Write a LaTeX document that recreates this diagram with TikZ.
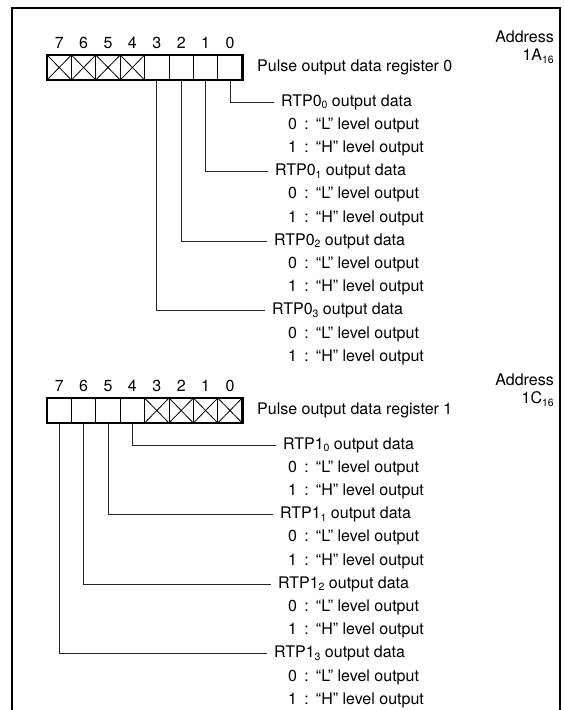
\documentclass[tikz,border=0pt]{standalone}
\usepackage{fontspec}
\setmainfont{TeX Gyre Heros}
\newcommand{\sbs}[1]{\raisebox{-0.3ex}{\fontsize{10.5}{10.5}\selectfont #1}}
\newcommand{\clr}{\hspace{0.45em}:\hspace{0.45em}}
\tikzset{
  cell/.style={draw, line width=0.8, minimum width=24.4, minimum height=25, inner sep=0, outer sep=0},
  bitlbl/.style={inner sep=0},
  lbl/.style={anchor=west, inner sep=0},
  addr/.style={anchor=east, inner sep=0},
  conn/.style={line width=0.9, draw=black!85},
  frame/.style={line width=1.8},
}
\newcommand{\regsec}[5]{%
  \foreach \i in {0,...,7} {
    \node[bitlbl] (L#1\i) at ({59.2+24.4*(7-\i)},43) {\i};
    \node[cell] (C#1\i) at ({59.2+24.4*(7-\i)},67.5) {};
  }
  \draw[line width=2.6] (C#17.north west) rectangle (C#10.south east);
  \foreach \i in {#2} {
    \draw[line width=0.8] (C#1\i.north west) -- (C#1\i.south east)
                          (C#1\i.north east) -- (C#1\i.south west);
  }
  \node[lbl] (P#1) at (257,67.5) {Pulse output data register #3};
  \node[addr] (A#1) at (554,37) {Address};
  \node[addr] (H#1) at (554,56) {#4};
  \foreach \k/\b/\rx in {#5} {
    \node[lbl] (R#1\k) at (\rx,{102+69.6*\k}) {RTP#1\sbs{\k} output data};
    \node[lbl] (Z#1\k) at (288,{125.2+69.6*\k}) {0\clr “L” level output};
    \node[lbl] (O#1\k) at (288,{148.4+69.6*\k}) {1\clr “H” level output};
    \draw[conn] (C#1\b.south) |- ([xshift=-7]R#1\k.west);
  }
}
\begin{document}
\begin{tikzpicture}[x=1pt,y=-1pt,font=\fontsize{16}{19}\selectfont]
\useasboundingbox (0,0) rectangle (563,710);
\coordinate (FB1) at (12,710);
\coordinate (FT1) at (12,8);
\coordinate (FT2) at (560,8);
\coordinate (FB2) at (560,710);
\draw[frame] (FB1) -- (FT1) -- (FT2) -- (FB2);
\begin{scope}
  \regsec{0}{7,6,5,4}{0}{1A\sbs{16}}{0/0/281,1/1/275,2/2/274,3/3/272}
\end{scope}
\begin{scope}[shift={(0,343)}]
  \regsec{1}{3,2,1,0}{1}{1C\sbs{16}}{0/4/283,1/5/280,2/6/278,3/7/274}
\end{scope}
\end{tikzpicture}
\end{document}
